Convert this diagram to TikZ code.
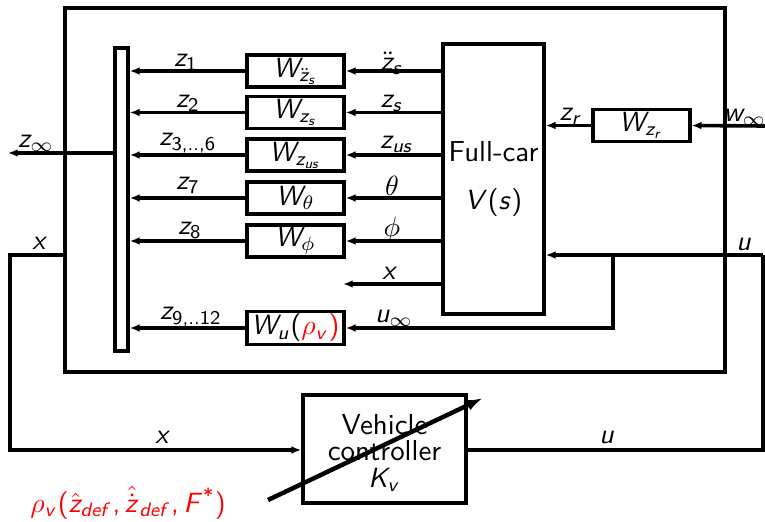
\documentclass[tikz,border=0pt]{standalone}
\usetikzlibrary{arrows.meta}
\DeclareSymbolFont{sfit}{OT1}{cmss}{m}{sl}
\DeclareSymbolFont{sfup}{OT1}{cmss}{m}{n}
\def\mkit#1{\DeclareMathSymbol{#1}{\mathalpha}{sfit}{`#1}}
\def\mkup#1{\DeclareMathSymbol{#1}{\mathalpha}{sfup}{`#1}}
\mkit d\mkit e\mkit f\mkit r\mkit s\mkit u\mkit v\mkit w\mkit x\mkit z
\mkit F\mkit K\mkit V\mkit W
\mkup 0\mkup 1\mkup 2\mkup 3\mkup 6\mkup 7\mkup 8\mkup 9\mkup .
\DeclareMathSymbol{(}{\mathopen}{sfup}{`(}
\DeclareMathSymbol{)}{\mathclose}{sfup}{`)}
\DeclareMathSymbol{,}{\mathpunct}{sfup}{`,}
\DeclareMathSymbol{*}{\mathbin}{sfup}{`*}
\begin{document}
\begin{tikzpicture}[x=0.36pt,y=-0.36pt,
  every node/.style={font=\sffamily\fontsize{10.4}{12.5}\selectfont},
  ln/.style={line width=1.3pt},
  arr/.style={ln,-{Latex[length=3.5pt,width=2.8pt]}},
  blk/.style={draw,line width=1.3pt,inner sep=0pt,minimum width=34.9pt,minimum height=11.5pt},
  lbl/.style={inner sep=1pt}]
\useasboundingbox (0,0) rectangle (765,521);
% outer frame
\draw[ln] (65,8) rectangle (725,372);
% blocks
\node[draw,line width=1.3pt,inner sep=0pt,minimum width=4.7pt,minimum height=109pt] (mux) at (121.5,199.5) {};
\node[blk] (w1) at (295.5,71) {$W_{\ddot z_s}$};
\node[blk] (w2) at (295.5,112.5) {$W_{z_s}$};
\node[blk] (w3) at (295.5,155) {$W_{z_{us}}$};
\node[blk] (w4) at (295.5,198) {$W_{\theta}$};
\node[blk] (w5) at (295.5,241) {$W_{\phi}$};
\node[blk,minimum height=11.9pt] (wu) at (295.5,328) {$W_u($\textcolor{red}{$\rho_v)$}};
\node[draw,line width=1.3pt,inner sep=0pt,minimum width=36.4pt,minimum height=97.2pt,align=center] (car) at (493.5,179) {Full-car\\[5pt]$V(s)$};
\node[blk] (wzr) at (641.5,125.5) {$W_{z_r}$};
\node[draw,line width=1.3pt,inner sep=0pt,minimum width=58.7pt,minimum height=38.9pt] (ctrl) at (384.5,449) {};
\node[align=center,inner sep=0pt] (ctxt) at (384.5,453) {Vehicle\\[-3pt]controller\\[-3pt]$K_v$};
% coordinates
\coordinate (xend) at (343,284);
\coordinate (zinf) at (8,153);
\coordinate (uR) at (763,255);
\coordinate (uB) at (763,450);
\coordinate (ubr) at (613,255);
\coordinate (ubr2) at (613,328);
\coordinate (win) at (765,126);
\coordinate (xL) at (65,255);
\coordinate (xA) at (10,255);
\coordinate (xB) at (10,450);
\coordinate (dS) at (268,500);
\coordinate (dE) at (483,398);
% connectors car -> weights -> mux
\foreach \w in {w1,w2,w3,w4,w5}{
  \draw[arr] (car.west |- \w.east) -- (\w.east);
  \draw[arr] (\w.west) -- (mux.east |- \w.west);
}
\draw[arr] (car.west |- xend) -- (xend);
\draw[arr] (wu.west) -- (mux.east |- wu.west);
\draw[arr] (mux.west |- zinf) -- (zinf);
\draw[arr] (win) -- (wzr.east);
\draw[arr] (wzr.west) -- (car.east |- wzr.west);
\draw[arr] (uR) -- (car.east |- uR);
\draw[arr] (ubr) -- (ubr2) -- (wu.east);
\draw[ln] (ctrl.east |- uB) -- (uB) -- (uR);
\draw[arr] (xL) -- (xA) -- (xB) -- (ctrl.west |- xB);
\draw[line width=1.6pt,-{Latex[length=6pt,width=4pt]}] (dS) -- (dE);
% labels
\node[lbl] at (186,62) {$z_1$};
\node[lbl] at (188,103) {$z_2$};
\node[lbl] at (188,143) {$z_{3,..,6}$};
\node[lbl] at (188,185) {$z_7$};
\node[lbl] at (190,230) {$z_8$};
\node[lbl] at (191,317) {$z_{9,..12}$};
\node[lbl] at (392,63) {$\ddot z_s$};
\node[lbl] at (392,103) {$z_s$};
\node[lbl] at (397,144) {$z_{us}$};
\node[lbl] at (392,186) {$\theta$};
\node[lbl] at (392,230) {$\phi$};
\node[lbl] at (390,273) {$x$};
\node[lbl] at (394,318) {$u_\infty$};
\node[lbl] at (571,116) {$z_r$};
\node[lbl] at (745,117) {$w_\infty$};
\node[lbl] at (744,244) {$u$};
\node[lbl] at (36,143) {$z_\infty$};
\node[lbl] at (40,243) {$x$};
\node[lbl] at (163,437) {$x$};
\node[lbl] at (607,437) {$u$};
\node[lbl,text=red] at (128,503) {$\rho_v(\hat z_{def},\hat{\dot z}_{def},F^*)$};
\end{tikzpicture}
\end{document}
